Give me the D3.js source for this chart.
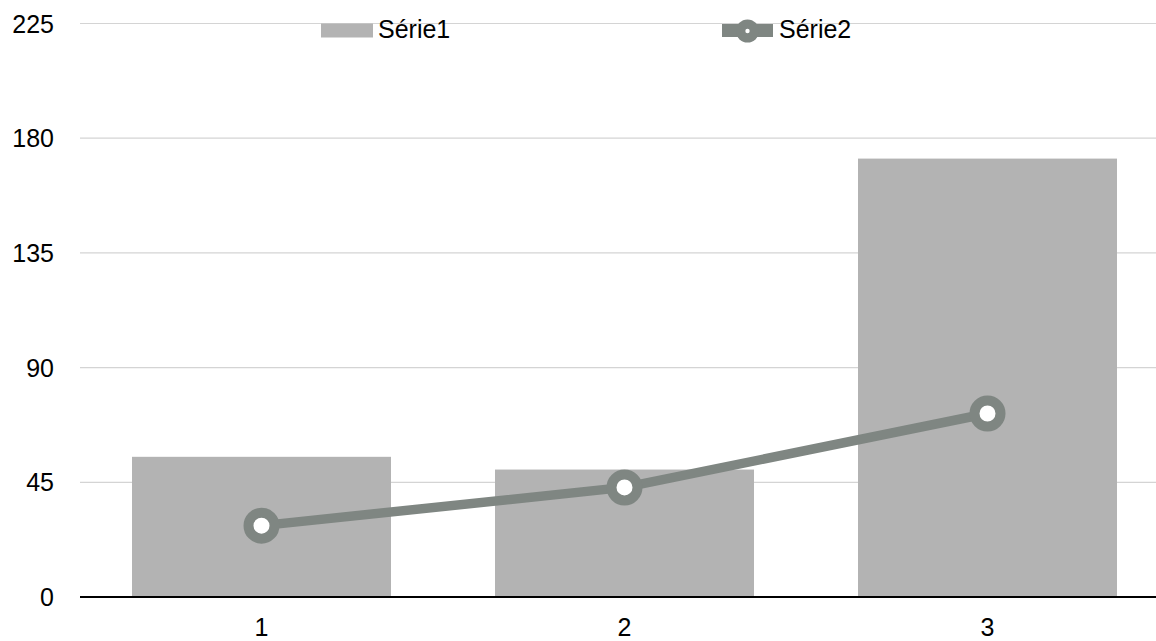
<!DOCTYPE html>
<html>
<head>
<meta charset="utf-8">
<script src="https://cdn.jsdelivr.net/npm/d3@7"></script>
<style>
  html, body { margin: 0; padding: 0; background: #fff; }
  svg { display: block; }
  text { font-family: "Liberation Sans", Arial, sans-serif; fill: #000; }
</style>
</head>
<body>
<svg id="chart" width="1156" height="641"></svg>
<script>
// Chart data
const categories = ["1", "2", "3"];
const serie1 = [55, 50, 172];
const serie2 = [28, 43, 72];
const yTicks = [0, 45, 90, 135, 180, 225];
const seriesNames = ["Série1", "Série2"];

const W = 1156, H = 641;
const barColor = "#b3b3b3";
const lineColor = "#7f8682";
const gridColor = "#d4d4d4";
const fontSize = 25;

const svg = d3.select("#chart");

const x = d3.scaleBand()
  .domain(categories)
  .range([80, 1169])
  .paddingInner(0.2865)
  .paddingOuter(0.14325);

const y = d3.scaleLinear()
  .domain([0, 225])
  .range([597, 23.5]);

// Horizontal gridlines
svg.append("g")
  .selectAll("line")
  .data(yTicks.filter(d => d !== 0))
  .join("line")
  .attr("x1", 80).attr("x2", W)
  .attr("y1", d => y(d)).attr("y2", d => y(d))
  .attr("stroke", gridColor)
  .attr("stroke-width", 1.2);

// Y tick labels
svg.append("g")
  .selectAll("text")
  .data(yTicks)
  .join("text")
  .attr("x", 54)
  .attr("y", d => y(d) + fontSize * 0.36)
  .attr("text-anchor", "end")
  .attr("font-size", fontSize)
  .text(d => d);

// Bars (Série1)
svg.append("g")
  .selectAll("rect")
  .data(serie1)
  .join("rect")
  .attr("x", (d, i) => x(categories[i]))
  .attr("width", x.bandwidth())
  .attr("y", d => y(d))
  .attr("height", d => y(0) - y(d))
  .attr("fill", barColor);

// Baseline axis
svg.append("line")
  .attr("x1", 80).attr("x2", W)
  .attr("y1", y(0)).attr("y2", y(0))
  .attr("stroke", "#000")
  .attr("stroke-width", 2.2);

// X tick labels
svg.append("g")
  .selectAll("text")
  .data(categories)
  .join("text")
  .attr("x", d => x(d) + x.bandwidth() / 2)
  .attr("y", 636)
  .attr("text-anchor", "middle")
  .attr("font-size", fontSize)
  .text(d => d);

// Line (Série2)
const cx = (d, i) => x(categories[i]) + x.bandwidth() / 2;
const line = d3.line()
  .x(cx)
  .y(d => y(d));

svg.append("path")
  .datum(serie2)
  .attr("d", line)
  .attr("fill", "none")
  .attr("stroke", lineColor)
  .attr("stroke-width", 9.5)
  .attr("stroke-linejoin", "round");

svg.append("g")
  .selectAll("circle")
  .data(serie2)
  .join("circle")
  .attr("cx", cx)
  .attr("cy", d => y(d))
  .attr("r", 13)
  .attr("fill", "#fff")
  .attr("stroke", lineColor)
  .attr("stroke-width", 10);

// Legend
const legend = svg.append("g");
legend.append("rect")
  .attr("x", 321).attr("y", 23.5)
  .attr("width", 52).attr("height", 14)
  .attr("fill", barColor);
legend.append("text")
  .attr("x", 378).attr("y", 37.5)
  .attr("font-size", fontSize)
  .text(seriesNames[0]);

legend.append("line")
  .attr("x1", 722).attr("x2", 773)
  .attr("y1", 30.5).attr("y2", 30.5)
  .attr("stroke", lineColor)
  .attr("stroke-width", 13);
legend.append("circle")
  .attr("cx", 747.5).attr("cy", 31)
  .attr("r", 11.5)
  .attr("fill", lineColor);
legend.append("circle")
  .attr("cx", 747.5).attr("cy", 31)
  .attr("r", 2.2)
  .attr("fill", "#fff");
legend.append("text")
  .attr("x", 779).attr("y", 37.5)
  .attr("font-size", fontSize)
  .text(seriesNames[1]);
</script>
</body>
</html>
